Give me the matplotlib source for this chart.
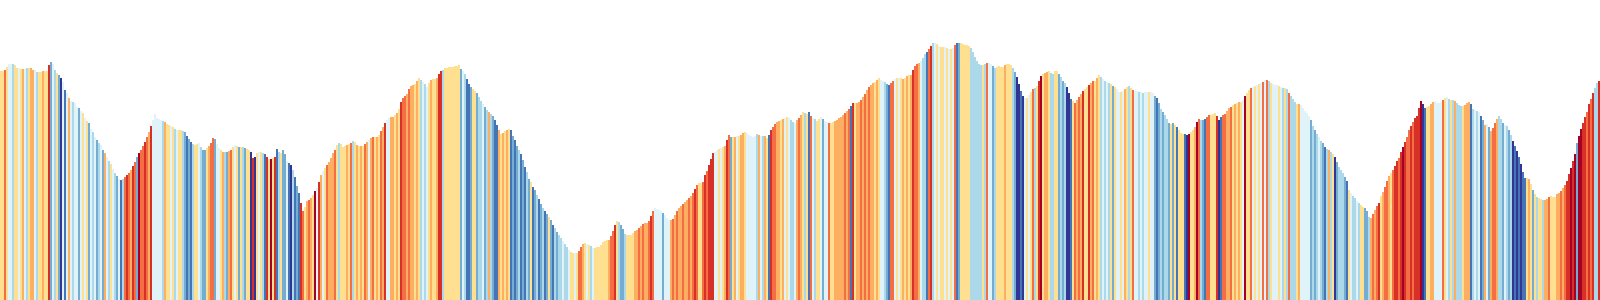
import matplotlib
matplotlib.use("Agg")
import matplotlib.pyplot as plt
from matplotlib.colors import ListedColormap, BoundaryNorm
import numpy as np

# Elevation profile (relative units), one value per segment
elevation = [
    229,229,230,233,236,236,236,235,232,232,
    231,231,231,232,232,232,230,230,228,228,
    228,229,229,229,235,238,236,230,227,225,
    222,218,210,207,202,199,198,197,193,192,
    189,187,182,179,177,171,168,163,160,157,
    155,150,147,143,139,136,131,127,124,121,
    120,121,123,125,127,130,134,138,143,147,
    150,154,158,163,168,174,180,186,182,181,
    180,179,178,176,175,174,173,171,170,170,
    170,169,168,164,161,158,156,155,156,157,
    153,150,150,152,154,157,162,161,156,152,
    150,148,148,148,149,150,153,155,154,153,
    153,153,152,151,150,148,142,143,147,148,
    148,147,146,143,141,141,142,143,151,148,
    147,150,146,139,137,135,130,123,114,107,
    97,89,93,99,100,102,105,109,112,118,
    125,129,132,135,138,142,147,150,155,157,
    156,153,154,155,156,157,159,158,155,154,
    154,154,156,158,160,162,163,163,163,165,
    169,173,177,180,182,183,183,185,187,191,
    198,202,204,206,211,214,215,216,219,222,
    220,218,216,213,217,220,221,221,222,226,
    229,230,232,232,233,233,233,234,234,235,
    231,229,226,221,216,213,211,209,207,203,
    199,196,193,190,188,186,184,180,175,170,
    166,167,169,170,171,170,164,160,154,150,
    146,140,133,128,121,118,113,110,105,101,
    96,92,89,86,83,80,75,72,68,65,
    62,59,56,53,50,48,47,47,47,49,
    53,56,57,56,55,54,52,52,53,53,
    55,58,59,60,60,64,69,75,79,78,
    75,71,66,65,65,65,67,69,70,72,
    74,76,77,77,79,84,89,92,91,90,
    89,87,85,82,80,80,81,85,89,92,
    94,96,98,100,102,104,107,111,115,117,
    117,118,125,129,135,141,147,148,150,151,
    152,153,154,160,165,163,163,163,164,164,
    165,167,168,167,165,164,163,164,166,165,
    164,164,164,162,165,170,173,176,178,179,
    180,181,182,183,182,180,178,177,180,182,
    185,188,187,186,188,184,182,181,179,181,
    183,181,179,178,177,177,178,179,180,182,
    183,185,187,189,191,194,197,197,197,198,
    200,203,206,210,213,215,217,218,220,222,
    220,219,218,216,215,217,219,221,222,222,
    222,221,222,224,225,225,230,234,236,237,
    239,242,246,248,251,254,257,257,256,254,
    253,253,253,252,251,251,252,255,257,257,
    257,256,255,255,254,252,248,243,239,236,
    235,235,236,237,237,236,234,232,233,234,
    233,233,235,236,236,235,232,228,223,216,
    209,204,202,202,205,208,211,212,214,219,
    224,226,227,228,229,227,226,229,229,226,
    223,219,217,213,207,201,199,197,200,203,
    206,209,211,213,215,217,219,219,222,225,
    223,221,219,218,217,216,214,213,211,208,
    208,209,211,213,214,212,210,209,209,208,
    208,207,208,208,208,208,207,204,202,197,
    191,188,185,181,177,176,177,175,173,170,
    167,166,166,165,166,168,170,173,178,181,
    180,180,181,183,185,185,186,187,184,180,
    183,185,186,189,192,193,195,196,197,198,
    198,200,204,207,210,212,213,214,215,216,
    217,218,220,220,219,217,216,215,215,214,
    213,212,212,211,207,204,201,198,196,196,
    195,192,189,187,184,180,174,170,166,163,
    159,157,153,151,150,148,146,143,138,133,
    130,127,123,119,110,107,104,102,99,97,
    95,93,92,89,83,82,86,90,94,97,
    104,108,113,119,124,127,130,134,139,142,
    148,153,158,163,170,174,178,182,184,192,
    199,196,192,193,194,196,198,199,197,197,
    198,200,202,203,201,200,200,199,197,195,
    194,194,195,197,198,196,191,190,189,188,
    184,180,175,176,173,169,172,177,181,184,
    181,177,175,174,170,165,159,154,149,143,
    136,128,122,122,121,116,110,106,103,102,
    101,100,100,101,103,104,103,103,106,107,
    109,112,115,119,126,132,139,146,157,164,
    171,177,183,188,196,201,207,212,217,219,
]

# Gradient class per segment (0 = steep descent ... 9 = steep climb)
grade_class_text = (
    "5575443554" "5643566435" "5655824352" "0414643442" "4545243423"
    "4264354324" "1378768729" "7787684444" "4365545345" "5321213554"
    "3225677244" "5632675452" "5325508054" "5318595813" "5224103121"
    "8756765948" "6457666753" "5556573565" "6576467565" "7684466565"
    "8776766565" "3434565568" "8355555555" "2431125523" "3423632116"
    "5656512123" "1213251231" "2312521323" "3433455457" "7654534555"
    "5555677853" "2235555667" "6766787444" "4244467676" "6766767875"
    "5787888445" "4568725645" "6654444436" "4365187766" "5645433467"
    "6535174355" "4244755666" "6676718566" "7676766565" "4432177454"
    "5656568776" "4331783454" "5545454712" "5555533333" "3537442355"
    "5565553200" "1045457358" "9566533552" "3230015767" "6855867565"
    "3434352544" "5465357443" "4344544212" "3233252515" "5510955697"
    "3217755580" "1776675656" "5495574545" "4747354445" "4353733356"
    "4444423234" "3213635023" "3321543343" "5522367678" "5677657887"
    "8987787888" "9015566444" "4754353633" "3566613434" "1264267763"
    "3243230101" "0115652535" "5366755566" "7678898929" "9887878338"
)
grade_class = [int(c) for c in grade_class_text]

palette = ["#313695", "#4575b4", "#74add1", "#abd9e9", "#e0f3f8",
           "#fee090", "#fdae61", "#f46d43", "#d73027", "#a50026"]

cmap = ListedColormap(palette)
norm = BoundaryNorm(np.arange(-0.5, 10.5, 1), cmap.N)

n = len(elevation)
x = np.arange(n)
colors = cmap(norm(np.array(grade_class[:n])))

fig = plt.figure(figsize=(16, 3), dpi=100)
ax = fig.add_axes([0, 0, 1, 1])
ax.bar(x, elevation, width=1.0, color=colors, linewidth=0, antialiased=False)
ax.set_xlim(-0.5, n - 0.5)
ax.set_ylim(0, 300)
ax.axis("off")
fig.savefig("out.png", dpi=100)
